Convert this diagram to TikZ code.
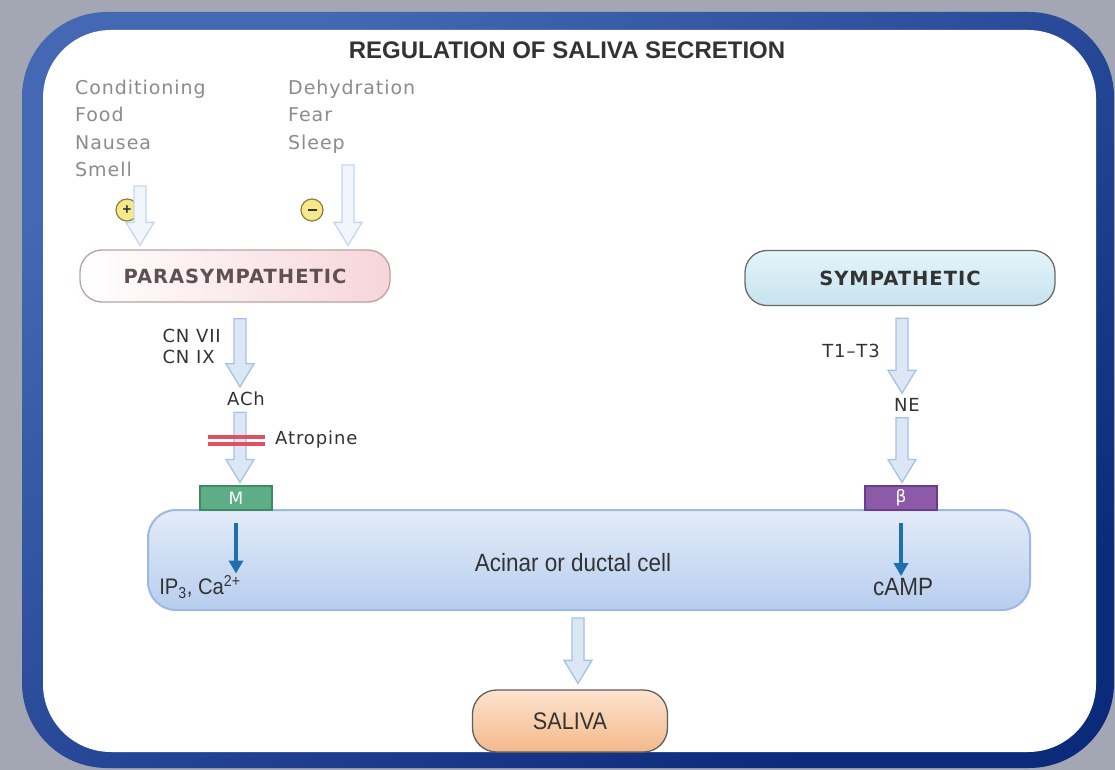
\documentclass[tikz,border=0pt]{standalone}
\usepackage{fontspec}
\setmainfont{Liberation Sans}
\newfontfamily\widefont[LetterSpace=5]{DejaVu Sans}
\newfontfamily\narrowfont[FakeStretch=0.9]{Liberation Sans}
\usetikzlibrary{calc,arrows.meta}

\definecolor{bggray}{HTML}{A3A7B3}
\definecolor{frameL}{HTML}{4468B4}
\definecolor{frameR}{HTML}{0B2A7A}
\definecolor{inputgray}{HTML}{8C8C8C}
\definecolor{arrowline}{HTML}{A6C1E6}
\definecolor{arrowfill}{HTML}{DCE7F6}
\definecolor{paleline}{HTML}{C2D7F0}
\definecolor{palefill}{HTML}{F1F6FD}
\definecolor{paraedge}{HTML}{B9A2A6}
\definecolor{parapink}{HTML}{F7D5DA}
\definecolor{paratext}{HTML}{5E5055}
\definecolor{symedge}{HTML}{6A6A6A}
\definecolor{symtop}{HTML}{E4F4FA}
\definecolor{symbot}{HTML}{C6E3EF}
\definecolor{celledge}{HTML}{9CB9E3}
\definecolor{celltop}{HTML}{E3ECF9}
\definecolor{cellbot}{HTML}{B7CDEE}
\definecolor{mgreen}{HTML}{5DAE86}
\definecolor{medge}{HTML}{3D8A64}
\definecolor{bpurple}{HTML}{8C5AA8}
\definecolor{bedge}{HTML}{6A3E86}
\definecolor{signalblue}{HTML}{1F6FAE}
\definecolor{atropred}{HTML}{E0505E}
\definecolor{saltop}{HTML}{FDE3CE}
\definecolor{salbot}{HTML}{F3B98A}
\definecolor{saledge}{HTML}{5E5E5E}
\definecolor{signyellow}{HTML}{F8E88C}
\definecolor{signedge}{HTML}{8F7F3C}
\definecolor{darktext}{HTML}{333333}

\tikzset{
  fatarrow/.style={draw=arrowline, fill=arrowfill, line width=1.3pt,
    to path={let \p1=(\tikztostart), \p2=(\tikztotarget) in
      (\x1-6pt,\y1) -- (\x1+6pt,\y1) -- (\x1+6pt,\y2+23pt) -- (\x1+14pt,\y2+23pt)
      -- (\x1,\y2) -- (\x1-14pt,\y2+23pt) -- (\x1-6pt,\y2+23pt) -- cycle}},
  palearrow/.style={fatarrow, draw=paleline, fill=palefill},
  signal/.style={draw=signalblue, line width=3.2pt,
    -{Triangle[length=13pt,width=14pt]}},
  blockline/.style={draw=atropred, line width=3.4pt},
  wide/.style={font=\widefont\fontsize{18}{21}\selectfont, text=darktext, inner sep=2pt},
  narrow/.style={font=\narrowfont\fontsize{25}{25}\selectfont, text=darktext, inner sep=2pt},
  stimtext/.style={font=\widefont\fontsize{19}{27.3}\selectfont, text=inputgray,
    align=left, inner sep=0pt},
  sign/.style={circle, draw=signedge, fill=signyellow, line width=1.2pt,
    minimum size=22pt, inner sep=0pt, text=darktext,
    font=\bfseries\fontsize{15}{15}\selectfont},
  parabox/.style={rounded corners=22pt, draw=paraedge, line width=1.3pt,
    left color=white, right color=parapink, minimum width=310pt,
    minimum height=52pt, text=paratext,
    font=\widefont\bfseries\fontsize{19.5}{19.5}\selectfont},
  symbox/.style={rounded corners=22pt, draw=symedge, line width=1.3pt,
    top color=symtop, bottom color=symbot, minimum width=310pt,
    minimum height=55pt, text=darktext,
    font=\widefont\bfseries\fontsize{19.5}{19.5}\selectfont},
  receptor/.style={minimum width=72pt, minimum height=24pt, inner sep=0pt,
    line width=1.2pt, text=white, font=\widefont\fontsize{17}{17}\selectfont},
  cellbox/.style={rounded corners=28pt, draw=celledge, line width=2pt,
    top color=celltop, bottom color=cellbot, minimum width=882pt,
    minimum height=100pt},
  salivabox/.style={rounded corners=24pt, draw=saledge, line width=1.3pt,
    top color=saltop, bottom color=salbot, minimum width=195pt,
    minimum height=62pt, text=darktext, font=\narrowfont\fontsize{24}{24}\selectfont}
}

\begin{document}
\begin{tikzpicture}[x=1pt, y=-1pt]
  \useasboundingbox (0,0) rectangle (1115,770);
  \fill[bggray] (0,0) rectangle (1115,770);
  % frame
  \shade[left color=frameL, right color=frameR, shading angle=35,
    rounded corners=85pt] (22,12) rectangle (1114,768);
  \fill[white, rounded corners=68pt] (43,30) rectangle (1096,752);

  \node[font=\bfseries\fontsize{24}{24}\selectfont, text=darktext] (title)
    at (567,50) {REGULATION OF SALIVA SECRETION};

  % inputs
  \node[stimtext, anchor=north west] (excite) at (75,80)
    {Conditioning\\Food\\Nausea\\Smell};
  \node[stimtext, anchor=north west] (inhibit) at (288,80)
    {Dehydration\\Fear\\Sleep};
  \node[sign] (plus) at (127,210) {+};
  \node[sign] (minus) at (312,210) {\raisebox{1pt}{\rule{9pt}{2pt}}};
  \coordinate (plusin) at (140,186);
  \coordinate (minusin) at (348,165);

  % nerves
  \node[parabox] (para) at (235,276) {PARASYMPATHETIC};
  \node[symbox] (symp) at (900,278) {SYMPATHETIC};
  \draw[palearrow] (plusin) to ($(plusin |- para.north)+(0,-4)$);
  \draw[palearrow] (minusin) to ($(minusin |- para.north)+(0,-4)$);

  \node[wide, anchor=north east, align=left] (cn) at (223,327) {CN VII\\CN IX};
  \node[wide] (ach) at (246,399) {ACh};
  \node[wide, anchor=west] (atropine) at (273,440) {Atropine};
  \node[wide, anchor=east] (tract) at (882,351) {T1–T3};
  \node[wide] (ne) at (907,405) {NE};

  % receptors and cell
  \node[cellbox] (cell) at (589,560) {};
  \node[receptor, fill=mgreen, draw=medge] (mrec) at (236,498) {M};
  \node[receptor, fill=bpurple, draw=bedge] (brec) at (901,498) {β};
  \node[narrow] (celllabel) at (573,563) {Acinar or ductal cell};
  \node[narrow, font=\narrowfont\fontsize{22.5}{22.5}\selectfont] (ip3)
    at (200,587) {IP\textsubscript{3}, Ca\textsuperscript{2+}};
  \node[narrow] (camp) at (903,587) {cAMP};
  \node[salivabox] (saliva) at (570,721) {SALIVA};

  \draw[fatarrow] ($(para.south)+(5,16)$) to ($(ach.north)+(0,-3)$);
  \draw[fatarrow] ($(ach.south)+(-6,4)$) to ($(mrec.north)+(0,-3)$);
  \draw[blockline] ($(atropine.west)+(-65,-3)$) -- ($(atropine.west)+(-8,-3)$);
  \draw[blockline] ($(atropine.west)+(-65,4)$) -- ($(atropine.west)+(-8,4)$);
  \draw[fatarrow] ($(symp.south)+(2,12)$) to ($(ne.north)+(0,-3)$);
  \draw[fatarrow] ($(ne.south)+(-5,4)$) to ($(brec.north)+(0,-3)$);
  \draw[signal] ($(mrec.south)+(0,12)$) -- (mrec.south |- ip3.north);
  \draw[signal] ($(brec.south)+(0,12)$) -- (brec.south |- camp.north);
  \draw[fatarrow] ($(cell.south)+(-11,7)$) to ($(saliva.north)+(0,-6)$);
\end{tikzpicture}
\end{document}
